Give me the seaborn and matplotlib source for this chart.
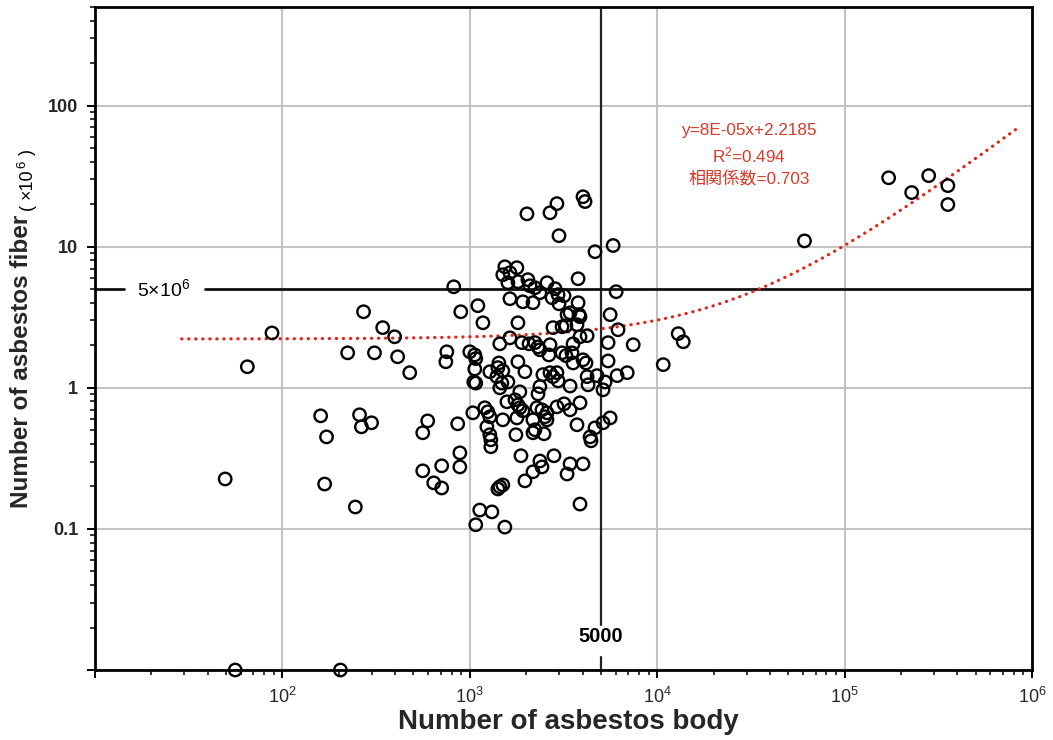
import numpy as np
import matplotlib
matplotlib.use("Agg")
import matplotlib.pyplot as plt
import matplotlib.transforms as mtransforms
from matplotlib.ticker import FixedLocator, LogLocator, NullFormatter
import seaborn as sns

# ---------------- data ----------------
asbestos_body = [
    49.5, 65, 88, 56, 204, 160, 172, 168, 245, 258, 264, 299, 271, 343, 397, 223, 310, 412, 478, 754,
    745, 895, 821, 1104, 1175, 596, 561, 862, 885, 885, 708, 561, 642, 708,
    1076, 1130, 1312, 1538, 1412, 1446, 1500, 1968, 2173, 2366, 2427, 2812, 1875, 3428, 3304, 4018,
    3873, 1279, 1295, 1295, 1762, 2173, 2489, 4385, 4436,
    1806, 1000, 1063, 1076, 1063, 1050, 1076, 1446, 1637, 1897, 2070, 2228, 2312, 2366, 2679, 2780,
    3105, 3258, 3733, 3556, 3873, 4227, 5470, 6180, 7447,
    2642, 3105, 3258, 3508, 3556, 4018, 4169, 5470, 1429, 1412, 1500, 1279, 1394, 1597, 1483, 1446,
    1806, 1968, 2455, 2679, 2917, 2780, 2958, 3428, 4227, 4775, 4276, 5272, 5140, 6109, 6918,
    1849, 2366, 2312, 1578, 1741, 1806, 1849, 1919, 2280, 2427, 2582, 2917, 3184, 3428, 3873, 1038,
    1202, 1248, 1279, 1233, 1500, 1783, 2173, 2228, 2518, 2582, 3733, 4656, 5140, 5610,
    2018, 2679, 2917, 4018, 4121, 2992, 4656, 5821, 1538, 1783, 1500, 1637, 1597, 1806, 2042, 2094,
    2228, 2366, 2582, 2851, 2958, 3184, 3784, 6039, 1637, 1919, 2173, 2748, 2992, 3784, 3304, 3428,
    3828, 3873, 5610,
    12940, 13770, 10770, 171800, 281000, 228000, 355600, 355600, 61100,
]
asbestos_fiber = [
    0.226, 1.41, 2.45, 0.01, 0.01, 0.633, 0.449, 0.208, 0.143, 0.644, 0.529, 0.565, 3.46, 2.67, 2.30,
    1.77, 1.77, 1.66, 1.28, 1.80, 1.53, 3.46, 5.20, 3.82, 2.89, 0.583, 0.480, 0.556, 0.346, 0.275,
    0.280, 0.258, 0.212, 0.195,
    0.107, 0.136, 0.132, 0.103, 0.192, 0.199, 0.205, 0.219, 0.254, 0.303, 0.275, 0.330, 0.330, 0.289,
    0.245, 0.289, 0.150, 0.465, 0.428, 0.382, 0.465, 0.480, 0.472, 0.449, 0.421,
    2.89, 1.80, 1.71, 1.61, 1.36, 1.10, 1.08, 2.05, 2.26, 2.09, 2.05, 2.09, 1.95, 1.86, 2.02, 2.67,
    2.71, 2.75, 2.80, 2.05, 2.30, 2.34, 2.09, 2.58, 2.02,
    1.71, 1.77, 1.69, 1.77, 1.50, 1.58, 1.50, 1.55, 1.50, 1.39, 1.32, 1.30, 1.20, 1.10, 1.08, 1.0,
    1.53, 1.30, 1.24, 1.28, 1.28, 1.20, 1.12, 1.03, 1.20, 1.22, 1.05, 1.10, 0.968, 1.22, 1.28,
    0.937, 1.02, 0.906, 0.796, 0.822, 0.757, 0.722, 0.687, 0.722, 0.698, 0.665, 0.733, 0.770, 0.698,
    0.783, 0.665, 0.722, 0.676, 0.623, 0.529, 0.593, 0.612, 0.593, 0.504, 0.623, 0.593, 0.547, 0.520,
    0.565, 0.612,
    17.1, 17.4, 20.2, 22.6, 20.9, 11.97, 9.22, 10.2, 7.21, 7.10, 6.33, 6.54, 5.56, 5.65, 5.84, 5.29,
    5.12, 4.72, 5.56, 5.04, 4.57, 4.49, 5.93, 4.80, 4.28, 4.07, 4.01, 4.35, 3.94, 4.01, 3.30, 3.40,
    3.30, 3.19, 3.30,
    2.42, 2.12, 1.46, 30.8, 31.9, 24.2, 27.1, 19.9, 11.0,
]

# trend line (from the chart's equation)
trend_slope = 8e-05
trend_intercept = 2.2185
trend_x_range = [29, 850000]

x_ticks = [10, 100, 1000, 10000, 100000, 1000000]
x_tick_labels = ["", r"$\mathregular{10^{2}}$", r"$\mathregular{10^{3}}$", r"$\mathregular{10^{4}}$",
                 r"$\mathregular{10^{5}}$", r"$\mathregular{10^{6}}$"]
y_ticks = [0.01, 0.1, 1, 10, 100]
y_tick_labels = ["", "0.1", "1", "10", "100"]
x_limits = [10, 1000000]
y_limits = [0.01, 500]

threshold_body = 5000
threshold_fiber = 5
threshold_body_label = "5000"
threshold_fiber_label = r"5×$\mathregular{10^{6}}$"

annotation_lines = ["y=8E-05x+2.2185", r"R$\mathregular{^{2}}$=0.494", "相関係数=0.703"]
x_label = "Number of asbestos body"
y_label = "Number of asbestos fiber"
y_label_unit_parts = ["(", "×10", "6", ")"]

# ---------------- style ----------------
sns.set_theme(style="white")
plt.rcParams["font.family"] = ["Liberation Sans", "Noto Sans CJK JP", "DejaVu Sans"]
plt.rcParams["mathtext.fontset"] = "custom"
plt.rcParams["mathtext.rm"] = "Liberation Sans"

W, H = 1053, 740
fig = plt.figure(figsize=(W / 100, H / 100), dpi=100)
fig.patch.set_facecolor("white")
L, R, T, B = 95, 1032, 7, 670
ax = fig.add_axes([L / W, (H - B) / H, (R - L) / W, (B - T) / H])
ax.set_facecolor("white")

ax.set_xscale("log")
ax.set_yscale("log")
ax.set_xlim(*x_limits)
ax.set_ylim(*y_limits)

# grid
ax.set_axisbelow(True)
ax.grid(which="major", color="#c3c3c3", linewidth=1.5, zorder=0)
ax.grid(which="minor", visible=False)

# ticks
ax.xaxis.set_major_locator(FixedLocator(x_ticks))
ax.set_xticklabels(x_tick_labels)
ax.xaxis.set_minor_locator(LogLocator(base=10, subs=np.arange(2, 10)))
ax.xaxis.set_minor_formatter(NullFormatter())
ax.yaxis.set_major_locator(FixedLocator(y_ticks))
ax.set_yticklabels(y_tick_labels)
ax.yaxis.set_minor_locator(LogLocator(base=10, subs=np.arange(2, 10)))
ax.yaxis.set_minor_formatter(NullFormatter())

ax.tick_params(axis="both", which="major", direction="out", length=6, width=1.4, color="black",
               bottom=True, left=True, top=False, right=False)
ax.tick_params(axis="both", which="minor", direction="out", length=3.5, width=1.1, color="black",
               bottom=True, left=True, top=False, right=False)
ax.tick_params(axis="y", which="major", labelsize=13, pad=6)
ax.tick_params(axis="x", which="major", labelsize=13, pad=6)
for lab in ax.get_yticklabels():
    lab.set_fontweight("bold")

for sp in ax.spines.values():
    sp.set_color("black")
    sp.set_linewidth(2.0)

# threshold lines (with gaps for labels)
gap_v_low = (B - 657) / (B - T)
gap_v_high = (B - 625) / (B - T)
ax.axvline(threshold_body, ymin=gap_v_high, ymax=1, color="#222222", linewidth=1.6, zorder=2)
ax.axvline(threshold_body, ymin=0, ymax=gap_v_low, color="#222222", linewidth=1.6, zorder=2)
ax.text(threshold_body, (B - 637) / (B - T), threshold_body_label,
        transform=mtransforms.blended_transform_factory(ax.transData, ax.transAxes),
        ha="center", va="center", fontsize=14.5, fontweight="bold", color="black")

gap_h_low = (124 - L) / (R - L)
gap_h_high = (205 - L) / (R - L)
ax.axhline(threshold_fiber, xmin=0, xmax=gap_h_low, color="#111111", linewidth=2.0, zorder=2)
ax.axhline(threshold_fiber, xmin=gap_h_high, xmax=1, color="#111111", linewidth=2.0, zorder=2)
ax.text((164 - L) / (R - L), threshold_fiber, threshold_fiber_label,
        transform=mtransforms.blended_transform_factory(ax.transAxes, ax.transData),
        ha="center", va="center", fontsize=14, color="black")

# trend line
tx = np.geomspace(trend_x_range[0], trend_x_range[1], 400)
ax.plot(tx, trend_slope * tx + trend_intercept, color="#e0261e", linewidth=2.3,
        linestyle=(0, (0.1, 2.1)), dash_capstyle="round", zorder=3)

# scatter
sns.scatterplot(x=asbestos_body, y=asbestos_fiber, ax=ax, marker="o", s=80, zorder=4,
                clip_on=False, legend=False)
coll = ax.collections[-1]
coll.set_facecolor("none")
coll.set_edgecolor("black")
coll.set_linewidth(1.7)
coll.set_clip_on(False)

# annotation
ann_y = [130, 155, 179]
for txt, py in zip(annotation_lines, ann_y):
    fig.text(749 / W, 1 - py / H, txt, ha="center", va="center", fontsize=12.3, color="#d83a2a")

ax.set_xlabel("")
ax.set_ylabel("")

# axis labels
fig.text(568 / W, 1 - 722 / H, x_label, ha="center", va="center", fontsize=20, fontweight="bold")
yl = fig.text(22 / W, 1 - 508 / H, y_label, ha="center", va="bottom", rotation=90,
              fontsize=17.5, fontweight="bold")
fig.canvas.draw()
renderer = fig.canvas.get_renderer()
bb = yl.get_window_extent(renderer=renderer)

# unit "(×10⁶)" built from pieces: measure unrotated widths, place rotated pieces
base_x = 32
sizes = [13, 13, 9.5, 13]
x_shift = [0, 0, -7, 0]
gaps_before = [5, 5, 0.5, 5]
y_cursor = bb.y1
for part, fs, dx, g in zip(y_label_unit_parts, sizes, x_shift, gaps_before):
    probe = fig.text(0, 0, part, fontsize=fs)
    width = probe.get_window_extent(renderer=renderer).width
    probe.remove()
    y_cursor += g
    fig.text((base_x + dx) / W, y_cursor / H, part, rotation=90, rotation_mode="anchor",
             ha="left", va="baseline", fontsize=fs, color="black")
    y_cursor += width

fig.savefig("out.png", dpi=100, facecolor="white")
